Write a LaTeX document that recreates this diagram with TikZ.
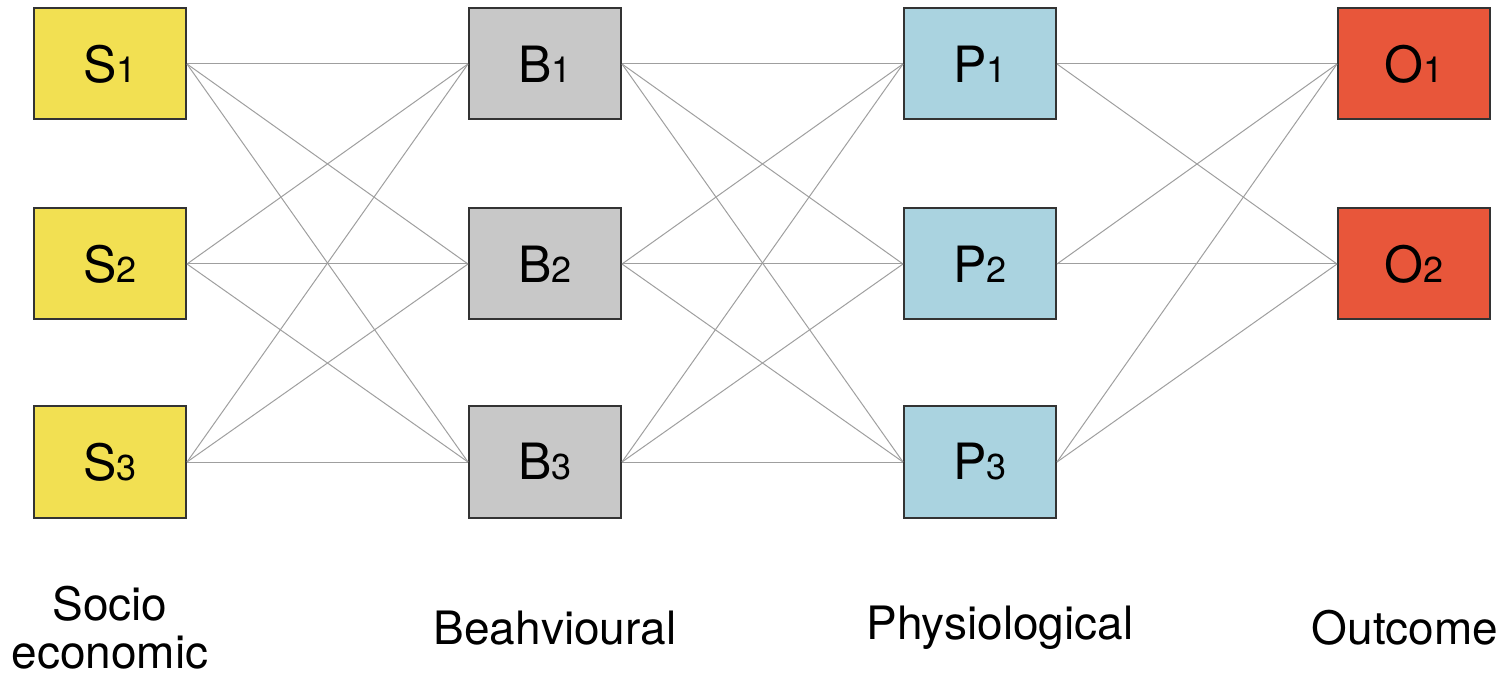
\documentclass[tikz,border=0pt]{standalone}
\usepackage{fontspec}
\setmainfont{TeX Gyre Heros}
\definecolor{socio}{RGB}{242,224,82}
\definecolor{behav}{RGB}{200,200,200}
\definecolor{physio}{RGB}{170,211,224}
\definecolor{outc}{RGB}{232,86,58}
\newcommand{\boxidx}[1]{{\fontsize{18}{20}\selectfont #1}}
\begin{document}
\begin{tikzpicture}[x=0.5pt,y=-0.5pt,
    box/.style={draw=black!80,line width=1pt,minimum width=76pt,minimum height=55.5pt,
        inner sep=0pt,font=\fontsize{25}{30}\selectfont},
    link/.style={gray!75,line width=0.5pt},
    lbl/.style={font=\fontsize{23}{24}\selectfont,align=center}]
    \useasboundingbox (0,0) rectangle (1511,684);
    % the four columns of boxes
    \foreach \i/\y in {1/64,2/264,3/462} {
        \node[box,fill=socio] (S\i) at (110,\y) {S\boxidx{\i}};
        \node[box,fill=behav] (B\i) at (545,\y) {B\boxidx{\i}};
        \node[box,fill=physio] (P\i) at (980,\y) {P\boxidx{\i}};
    }
    \foreach \i/\y in {1/64,2/264}
        \node[box,fill=outc] (O\i) at (1414,\y) {O\boxidx{\i}};
    % every box linked to every box of the next column
    \foreach \i in {1,2,3} {
        \foreach \j in {1,2,3} {
            \draw[link] (S\i.east) -- (B\j.west);
            \draw[link] (B\i.east) -- (P\j.west);
        }
        \foreach \j in {1,2}
            \draw[link] (P\i.east) -- (O\j.west);
    }
    % column names
    \node[lbl] (soc) at (110,628) {Socio\\economic};
    \node[lbl] (beh) at (555,628) {Beahvioural};
    \node[lbl] (phy) at (1000,628) {Physiological};
    \node[lbl] (out) at (1405,628) {Outcome};
\end{tikzpicture}
\end{document}
